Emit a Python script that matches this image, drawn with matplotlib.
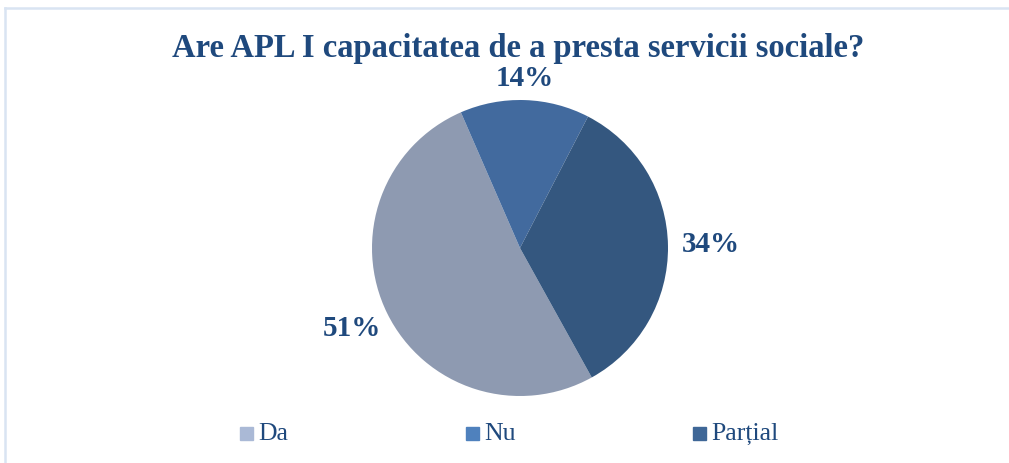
import matplotlib
matplotlib.use("Agg")
from matplotlib import pyplot as plt
from matplotlib.lines import Line2D

# data
categories = ["Da", "Nu", "Parțial"]
shares = [51, 14, 34]
labels = ["51%", "14%", "34%"]

slice_colors = ["#8e9ab1", "#426a9e", "#34577f"]
legend_colors = ["#aab9d6", "#4f81bd", "#3f6797"]
text_color = "#1f497d"

plt.rcParams['font.family'] = ['Liberation Serif', 'DejaVu Serif']

fig = plt.figure(figsize=(10.09, 4.63), dpi=100)
W, H = 1009, 463

# light frame (only top and left edge visible)
fig.add_artist(Line2D([4.5 / W, 1.0], [1 - 8 / H, 1 - 8 / H], color="#d9e4f2", lw=1.8))
fig.add_artist(Line2D([4.5 / W, 4.5 / W], [0, 1 - 8 / H], color="#d9e4f2", lw=1.8))

# pie: centre ~ (520, 248), radius ~148 px
r = 148
cx, cy = 520, 248
ax = fig.add_axes([(cx - r) / W, 1 - (cy + r) / H, 2 * r / W, 2 * r / H])
wedges, _ = ax.pie(shares, colors=slice_colors, startangle=-61, counterclock=False,
                   radius=1.0, wedgeprops=dict(linewidth=0))
ax.set_xlim(-1, 1)
ax.set_ylim(-1, 1)
ax.set_aspect("equal")
ax.axis("off")

# percentage labels
label_pos = [(352, 328), (525, 78), (711, 244)]
for lab, (px, py) in zip(labels, label_pos):
    fig.text(px / W, 1 - py / H, lab, ha="center", va="center",
             fontsize=21, fontweight="bold", color=text_color)

fig.text(518 / W, 1 - 49 / H, "Are APL I capacitatea de a presta servicii sociale?",
         ha="center", va="center", fontsize=23.5, fontweight="bold", color=text_color)

# legend
leg_x = [240, 466, 693]
for name, col, lx in zip(categories, legend_colors, leg_x):
    fig.add_artist(plt.Rectangle((lx / W, 1 - 440 / H), 13 / W, 13 / H,
                                 color=col, transform=fig.transFigure))
    fig.text((lx + 18) / W, 1 - 434 / H, name, ha="left", va="center",
             fontsize=18.5, color=text_color)

fig.savefig("out.png", dpi=100, facecolor="white")
